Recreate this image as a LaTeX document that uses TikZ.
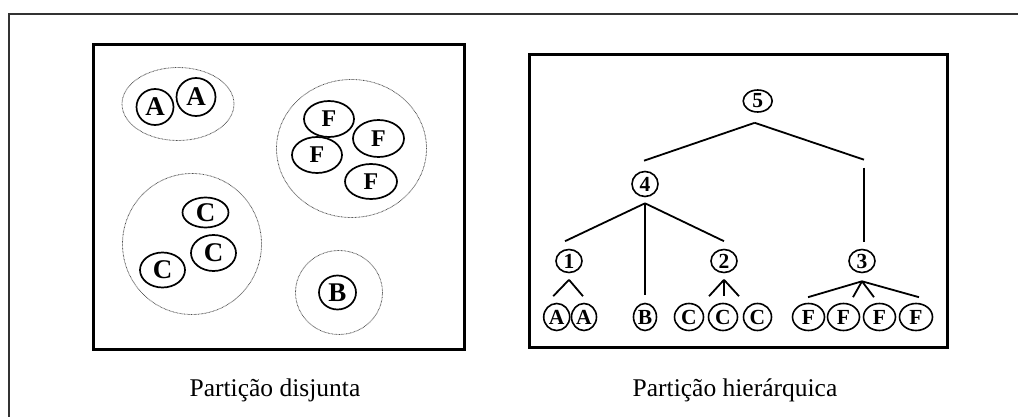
\documentclass[tikz,border=0pt]{standalone}
\usepackage{fontspec}
\setmainfont{Liberation Serif}
\usetikzlibrary{shapes.geometric,calc}
\begin{document}
\begin{tikzpicture}[x=1pt,y=-1pt,
  elem/.style={ellipse,draw,line width=1.7pt,inner sep=0pt,fill=white,font=\fontsize{27}{27}\selectfont\bfseries},
  felem/.style={elem,font=\fontsize{24}{24}\selectfont\bfseries},
  grp/.style={ellipse,draw=black!70,line width=0.8pt,dash pattern=on 0.7pt off 0.7pt,inner sep=0pt},
  tnode/.style={ellipse,draw,line width=1.6pt,inner sep=0pt,font=\fontsize{21.5}{21.5}\selectfont\bfseries},
  leaf/.style={tnode,minimum height=27pt},
  edge/.style={line width=1.8pt},
  boxframe/.style={line width=3pt},
  outerframe/.style={draw=black!80,line width=1.5pt},
  caption/.style={font=\fontsize{25.5}{26}\selectfont,anchor=base,inner sep=0pt}]
\useasboundingbox (0,0) rectangle (1018,417);

% outer frame (only top and left sides visible)
\draw[outerframe] (9,417) -- (9,14) -- (1018,14);

% boxes
\draw[boxframe] (93,45) rectangle (464,349);
\draw[boxframe] (529,55) rectangle (947,347);

% ---------- left: disjoint partition ----------
\node[grp,minimum width=112pt,minimum height=73pt] (gA) at (178,104) {};
\node[grp,minimum width=150pt,minimum height=138pt] (gF) at (351.5,148.5) {};
\node[grp,minimum width=139pt,minimum height=141pt] (gC) at (192,244) {};
\node[grp,minimum width=87pt,minimum height=84pt] (gB) at (339,292.5) {};

\node[elem,minimum width=37pt,minimum height=36pt] (a1) at (155,107) {A};
\node[elem,minimum width=39pt,minimum height=38pt] (a2) at (196,97) {A};

\node[felem,minimum width=50pt,minimum height=36pt] (f1) at (329,119) {F};
\node[felem,minimum width=51pt,minimum height=37pt] (f2) at (378.5,138.5) {F};
\node[felem,minimum width=50pt,minimum height=36pt,fill=none] (f3) at (317,155) {F};
\node[felem,minimum width=52pt,minimum height=35pt] (f4) at (371,181.5) {F};

\node[elem,minimum width=46pt,minimum height=30pt] (c1) at (205.5,212.5) {C};
\node[elem,minimum width=45pt,minimum height=36pt] (c2) at (213.5,253) {C};
\node[elem,minimum width=45pt,minimum height=35pt] (c3) at (162.5,270) {C};

\node[elem,minimum width=37pt,minimum height=34pt] (b) at (337.5,292.5) {B};

% ---------- right: hierarchical partition ----------
\node[tnode,minimum width=29pt,minimum height=22pt] (n5) at (757.7,101) {5};
\node[tnode,minimum width=26pt,minimum height=25pt] (n4) at (645,184) {4};
\node[tnode,minimum width=26pt,minimum height=23pt] (n1) at (569,261) {1};
\node[tnode,minimum width=26pt,minimum height=23pt] (n2) at (724,261) {2};
\node[tnode,minimum width=26pt,minimum height=23pt] (n3) at (862,261) {3};

\node[leaf,minimum width=26pt] (lA1) at (556.7,317) {A};
\node[leaf,minimum width=25pt] (lA2) at (584,317) {A};
\node[leaf,minimum width=23pt] (lB) at (645,317) {B};
\node[leaf,minimum width=29pt] (lC1) at (689,317) {C};
\node[leaf,minimum width=29pt] (lC2) at (723,317) {C};
\node[leaf,minimum width=28pt] (lC3) at (757.5,317) {C};
\node[leaf,minimum width=32pt] (lF1) at (808.5,317) {F};
\node[leaf,minimum width=32pt] (lF2) at (843.5,317) {F};
\node[leaf,minimum width=32pt] (lF3) at (879.5,317) {F};
\node[leaf,minimum width=33pt] (lF4) at (916,317) {F};

% edges from 5
\draw[edge] ($(n5.south)+(-3,10)$) -- ($(n4.north)+(-1,-10)$);
\draw[edge] ($(n5.south)+(-3,10)$) -- ($(n3.north)+(2,-89)$);
\draw[edge] ($(n3.north)+(2,-81)$) -- ($(n3.north)+(2,-7)$);

% edges from 4
\draw[edge] ($(n4.south)+(0,6)$) -- ($(n1.north)+(-4,-7.5)$);
\draw[edge] ($(n4.south)+(0,6)$) -- ($(lB.north)+(0,-7.5)$);
\draw[edge] ($(n4.south)+(0,6)$) -- ($(n2.north)+(0,-7.5)$);

% edges from 1
\draw[edge] ($(n1.south)+(0,6.5)$) -- ($(lA1.north)+(-3.5,-6.5)$);
\draw[edge] ($(n1.south)+(0,6.5)$) -- ($(lA2.north)+(-1,-6.5)$);

% edges from 2
\draw[edge] ($(n2.south)+(0,6.5)$) -- ($(lC1.north)+(20,-6.5)$);
\draw[edge] ($(n2.south)+(0,6.5)$) -- ($(lC2.north)+(1,-6.5)$);
\draw[edge] ($(n2.south)+(0,6.5)$) -- ($(lC3.north)+(-18.5,-6.5)$);

% edges from 3
\draw[edge] ($(n3.south)+(0,8)$) -- ($(lF1.north)+(-0.5,-5.5)$);
\draw[edge] ($(n3.south)+(0,8)$) -- ($(lF2.north)+(9.5,-5.5)$);
\draw[edge] ($(n3.south)+(0,8)$) -- ($(lF3.north)+(-5.5,-5.5)$);
\draw[edge] ($(n3.south)+(0,8)$) -- ($(lF4.north)+(3,-5.5)$);

% captions
\node[caption] (cap1) at (275,396) {Partição disjunta};
\node[caption] (cap2) at (735,396) {Partição hierárquica};
\end{tikzpicture}
\end{document}
